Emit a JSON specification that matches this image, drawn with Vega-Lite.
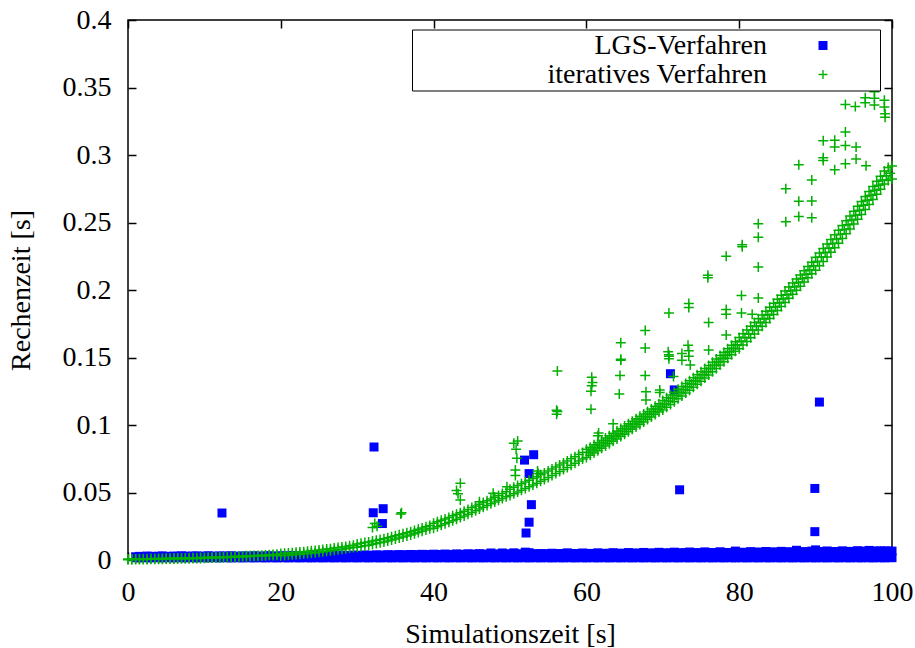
{
"$schema": "https://vega.github.io/schema/vega-lite/v6.json",
"width": 764, "height": 540,
"autosize": "none",
"padding": {"left": 128, "top": 20, "right": 23, "bottom": 88},
"background": "white",
"config": {
  "font": "Liberation Serif, serif",
  "view": {"stroke": "black", "strokeWidth": 1.5},
  "axis": {"domain": false, "grid": false, "ticks": true, "tickColor": "black", "tickWidth": 1.5, "tickSize": -8, "labelFlush": false,
    "labelFont": "Liberation Serif, serif", "labelFontSize": 28, "labelColor": "black",
    "titleFont": "Liberation Serif, serif", "titleFontSize": 28, "titleFontWeight": "normal", "titleColor": "black"}
},
"datasets": {
"lgs": [
{"x":1,"a":0.0017,"b":0.0024},{"x":1.5,"a":0.0016,"b":0.0027},{"x":2,"a":0.0018,"b":0.0026},{"x":2.5,"a":0.0017,"b":0.0029},{"x":3,"a":0.0016,"b":0.0027},{"x":3.5,"a":0.0018,"b":0.0026},{"x":4,"a":0.0017,"b":0.0028},{"x":4.5,"a":0.0016,"b":0.0030},{"x":5,"a":0.0018,"b":0.0027},{"x":5.5,"a":0.0017,"b":0.0026},{"x":6,"a":0.0016,"b":0.0029},{"x":6.5,"a":0.0018,"b":0.0027},{"x":7,"a":0.0017,"b":0.0031},{"x":7.5,"a":0.0016,"b":0.0028},{"x":8,"a":0.0018,"b":0.0027},{"x":8.5,"a":0.0017,"b":0.0029},{"x":9,"a":0.0016,"b":0.0030},{"x":9.5,"a":0.0018,"b":0.0027},{"x":10,"a":0.0017,"b":0.0028},{"x":10.5,"a":0.0016,"b":0.0031},{"x":11,"a":0.0018,"b":0.0028},{"x":11.5,"a":0.0017,"b":0.0027},{"x":12,"a":0.0016,"b":0.0030},{"x":12.5,"a":0.0018,"b":0.0028},{"x":13,"a":0.0017,"b":0.0029},{"x":13.5,"a":0.0016,"b":0.0031},{"x":14,"a":0.0018,"b":0.0028},{"x":14.5,"a":0.0017,"b":0.0027},{"x":15,"a":0.0016,"b":0.0030},{"x":15.5,"a":0.0018,"b":0.0029},{"x":16,"a":0.0017,"b":0.0028},{"x":16.5,"a":0.0016,"b":0.0031},{"x":17,"a":0.0018,"b":0.0029},{"x":17.5,"a":0.0017,"b":0.0028},{"x":18,"a":0.0016,"b":0.0030},{"x":18.5,"a":0.0018,"b":0.0031},{"x":19,"a":0.0017,"b":0.0029},{"x":19.5,"a":0.0016,"b":0.0028},{"x":20,"a":0.0018,"b":0.0031},{"x":20.5,"a":0.0017,"b":0.0030},{"x":21,"a":0.0016,"b":0.0029},{"x":21.5,"a":0.0018,"b":0.0032},{"x":22,"a":0.0017,"b":0.0030},{"x":22.5,"a":0.0016,"b":0.0029},{"x":23,"a":0.0018,"b":0.0033},{"x":23.5,"a":0.0017,"b":0.0031},{"x":24,"a":0.0016,"b":0.0030},{"x":24.5,"a":0.0018,"b":0.0032},{"x":25,"a":0.0017,"b":0.0034},{"x":25.5,"a":0.0016,"b":0.0031},{"x":26,"a":0.0018,"b":0.0032},{"x":26.5,"a":0.0017,"b":0.0035},{"x":27,"a":0.0016,"b":0.0033},{"x":27.5,"a":0.0018,"b":0.0032},{"x":28,"a":0.0017,"b":0.0036},{"x":28.5,"a":0.0016,"b":0.0034},{"x":29,"a":0.0018,"b":0.0033},{"x":29.5,"a":0.0017,"b":0.0036},{"x":30,"a":0.0016,"b":0.0035},{"x":30.5,"a":0.0018,"b":0.0034},{"x":31,"a":0.0017,"b":0.0037},{"x":31.5,"a":0.0016,"b":0.0035},{"x":32,"a":0.0018,"b":0.0034},{"x":32.5,"a":0.0017,"b":0.0038},{"x":33,"a":0.0016,"b":0.0036},{"x":33.5,"a":0.0018,"b":0.0035},{"x":34,"a":0.0017,"b":0.0039},{"x":34.5,"a":0.0016,"b":0.0037},{"x":35,"a":0.0018,"b":0.0036},{"x":35.5,"a":0.0017,"b":0.0040},{"x":36,"a":0.0016,"b":0.0038},{"x":36.5,"a":0.0018,"b":0.0037},{"x":37,"a":0.0017,"b":0.0041},{"x":37.5,"a":0.0016,"b":0.0039},{"x":38,"a":0.0018,"b":0.0038},{"x":38.5,"a":0.0017,"b":0.0042},{"x":39,"a":0.0016,"b":0.0040},{"x":39.5,"a":0.0018,"b":0.0039},{"x":40,"a":0.0017,"b":0.0043},{"x":40.5,"a":0.0016,"b":0.0040},{"x":41,"a":0.0018,"b":0.0041},{"x":41.5,"a":0.0017,"b":0.0044},{"x":42,"a":0.0016,"b":0.0041},{"x":42.5,"a":0.0018,"b":0.0040},{"x":43,"a":0.0017,"b":0.0045},{"x":43.5,"a":0.0016,"b":0.0042},{"x":44,"a":0.0018,"b":0.0041},{"x":44.5,"a":0.0017,"b":0.0046},{"x":45,"a":0.0016,"b":0.0042},{"x":45.5,"a":0.0018,"b":0.0043},{"x":46,"a":0.0017,"b":0.0047},{"x":46.5,"a":0.0016,"b":0.0043},{"x":47,"a":0.0018,"b":0.0042},{"x":47.5,"a":0.0017,"b":0.0052},{"x":48,"a":0.0016,"b":0.0044},{"x":48.5,"a":0.0018,"b":0.0043},{"x":49,"a":0.0017,"b":0.0052},{"x":49.5,"a":0.0016,"b":0.0044},{"x":50,"a":0.0018,"b":0.0045},{"x":50.5,"a":0.0017,"b":0.0053},{"x":51,"a":0.0016,"b":0.0045},{"x":51.5,"a":0.0018,"b":0.0044},{"x":52,"a":0.0017,"b":0.0058},{"x":52.5,"a":0.0016,"b":0.0054},{"x":53,"a":0.0018,"b":0.0046},{"x":53.5,"a":0.0017,"b":0.0045},{"x":54,"a":0.0016,"b":0.0047},{"x":54.5,"a":0.0018,"b":0.0046},{"x":55,"a":0.0017,"b":0.0045},{"x":55.5,"a":0.0016,"b":0.0050},{"x":56,"a":0.0018,"b":0.0047},{"x":56.5,"a":0.0017,"b":0.0046},{"x":57,"a":0.0016,"b":0.0048},{"x":57.5,"a":0.0018,"b":0.0053},{"x":58,"a":0.0017,"b":0.0047},{"x":58.5,"a":0.0016,"b":0.0048},{"x":59,"a":0.0018,"b":0.0047},{"x":59.5,"a":0.0017,"b":0.0052},{"x":60,"a":0.0016,"b":0.0048},{"x":60.5,"a":0.0018,"b":0.0049},{"x":61,"a":0.0017,"b":0.0048},{"x":61.5,"a":0.0016,"b":0.0053},{"x":62,"a":0.0018,"b":0.0049},{"x":62.5,"a":0.0017,"b":0.0048},{"x":63,"a":0.0016,"b":0.0050},{"x":63.5,"a":0.0018,"b":0.0054},{"x":64,"a":0.0017,"b":0.0049},{"x":64.5,"a":0.0016,"b":0.0050},{"x":65,"a":0.0018,"b":0.0049},{"x":65.5,"a":0.0017,"b":0.0055},{"x":66,"a":0.0016,"b":0.0050},{"x":66.5,"a":0.0018,"b":0.0051},{"x":67,"a":0.0017,"b":0.0050},{"x":67.5,"a":0.0016,"b":0.0056},{"x":68,"a":0.0018,"b":0.0051},{"x":68.5,"a":0.0017,"b":0.0050},{"x":69,"a":0.0016,"b":0.0052},{"x":69.5,"a":0.0018,"b":0.0057},{"x":70,"a":0.0017,"b":0.0052},{"x":70.5,"a":0.0016,"b":0.0051},{"x":71,"a":0.0018,"b":0.0053},{"x":71.5,"a":0.0017,"b":0.0058},{"x":72,"a":0.0016,"b":0.0052},{"x":72.5,"a":0.0018,"b":0.0053},{"x":73,"a":0.0017,"b":0.0054},{"x":73.5,"a":0.0016,"b":0.0059},{"x":74,"a":0.0018,"b":0.0053},{"x":74.5,"a":0.0017,"b":0.0054},{"x":75,"a":0.0016,"b":0.0053},{"x":75.5,"a":0.0018,"b":0.0060},{"x":76,"a":0.0017,"b":0.0054},{"x":76.5,"a":0.0016,"b":0.0055},{"x":77,"a":0.0018,"b":0.0054},{"x":77.5,"a":0.0017,"b":0.0061},{"x":78,"a":0.0016,"b":0.0055},{"x":78.5,"a":0.0018,"b":0.0056},{"x":79,"a":0.0017,"b":0.0055},{"x":79.5,"a":0.0016,"b":0.0066},{"x":80,"a":0.0018,"b":0.0056},{"x":80.5,"a":0.0017,"b":0.0057},{"x":81,"a":0.0016,"b":0.0056},{"x":81.5,"a":0.0018,"b":0.0062},{"x":82,"a":0.0017,"b":0.0057},{"x":82.5,"a":0.0016,"b":0.0058},{"x":83,"a":0.0018,"b":0.0057},{"x":83.5,"a":0.0017,"b":0.0063},{"x":84,"a":0.0016,"b":0.0058},{"x":84.5,"a":0.0018,"b":0.0059},{"x":85,"a":0.0017,"b":0.0058},{"x":85.5,"a":0.0016,"b":0.0064},{"x":86,"a":0.0018,"b":0.0059},{"x":86.5,"a":0.0017,"b":0.0060},{"x":87,"a":0.0016,"b":0.0059},{"x":87.5,"a":0.0018,"b":0.0072},{"x":88,"a":0.0017,"b":0.0060},{"x":88.5,"a":0.0016,"b":0.0061},{"x":89,"a":0.0018,"b":0.0060},{"x":89.5,"a":0.0017,"b":0.0066},{"x":90,"a":0.0016,"b":0.0075},{"x":90.5,"a":0.0018,"b":0.0062},{"x":91,"a":0.0017,"b":0.0061},{"x":91.5,"a":0.0016,"b":0.0067},{"x":92,"a":0.0018,"b":0.0062},{"x":92.5,"a":0.0017,"b":0.0063},{"x":93,"a":0.0016,"b":0.0062},{"x":93.5,"a":0.0018,"b":0.0068},{"x":94,"a":0.0017,"b":0.0063},{"x":94.5,"a":0.0016,"b":0.0064},{"x":95,"a":0.0018,"b":0.0063},{"x":95.5,"a":0.0017,"b":0.0069},{"x":96,"a":0.0016,"b":0.0064},{"x":96.5,"a":0.0018,"b":0.0065},{"x":97,"a":0.0017,"b":0.0071},{"x":97.5,"a":0.0016,"b":0.0066},{"x":98,"a":0.0018,"b":0.0065},{"x":98.5,"a":0.0017,"b":0.0068},{"x":99,"a":0.0016,"b":0.0066},{"x":99.5,"a":0.0018,"b":0.0067},{"x":100,"a":0.0017,"b":0.0066},
{"x":12.3,"a":0.0348},{"x":32.2,"a":0.0837},{"x":32.1,"a":0.035},{"x":33.4,"a":0.038},{"x":33.3,"a":0.027},{"x":51.9,"a":0.074},{"x":53.1,"a":0.078},{"x":52.5,"a":0.064},{"x":52.8,"a":0.041},{"x":52.5,"a":0.028},{"x":52.1,"a":0.020},{"x":71.0,"a":0.138},{"x":71.5,"a":0.126},{"x":72.2,"a":0.052},{"x":90.5,"a":0.117},{"x":89.9,"a":0.053},{"x":89.9,"a":0.021}
],
"it": [
{"x":0,"a":0.0002,"b":0.0008},{"x":0.5,"a":0.0002,"b":0.0007},{"x":1,"a":0.0003,"b":0.0008},{"x":1.5,"a":0.0003,"b":0.0009},{"x":2,"a":0.0004,"b":0.0010},{"x":2.5,"a":0.0004,"b":0.0010},{"x":3,"a":0.0005,"b":0.0011},{"x":3.5,"a":0.0005,"b":0.0011},{"x":4,"a":0.0006,"b":0.0012},{"x":4.5,"a":0.0006,"b":0.0012},{"x":5,"a":0.0007,"b":0.0013},{"x":5.5,"a":0.0007,"b":0.0013},{"x":6,"a":0.0008,"b":0.0014},{"x":6.5,"a":0.0008,"b":0.0014},{"x":7,"a":0.0009,"b":0.0015},{"x":7.5,"a":0.0009,"b":0.0015},{"x":8,"a":0.0010,"b":0.0016},{"x":8.5,"a":0.0011,"b":0.0017},{"x":9,"a":0.0011,"b":0.0017},{"x":9.5,"a":0.0012,"b":0.0018},{"x":10,"a":0.0013,"b":0.0019},{"x":10.5,"a":0.0014,"b":0.0020},{"x":11,"a":0.0015,"b":0.0021},{"x":11.5,"a":0.0016,"b":0.0022},{"x":12,"a":0.0017,"b":0.0023},{"x":12.5,"a":0.0018,"b":0.0024},{"x":13,"a":0.0019,"b":0.0025},{"x":13.5,"a":0.0020,"b":0.0026},{"x":14,"a":0.0021,"b":0.0027},{"x":14.5,"a":0.0022,"b":0.0028},{"x":15,"a":0.0024,"b":0.0030},{"x":15.5,"a":0.0025,"b":0.0031},{"x":16,"a":0.0026,"b":0.0032},{"x":16.5,"a":0.0027,"b":0.0033},{"x":17,"a":0.0028,"b":0.0034},{"x":17.5,"a":0.0030,"b":0.0036},{"x":18,"a":0.0031,"b":0.0037},{"x":18.5,"a":0.0033,"b":0.0039},{"x":19,"a":0.0034,"b":0.0040},{"x":19.5,"a":0.0036,"b":0.0042},
{"x":20,"a":0.0032,"b":0.0048},{"x":20.5,"a":0.0034,"b":0.0050},{"x":21,"a":0.0036,"b":0.0052},{"x":21.5,"a":0.0038,"b":0.0054},{"x":22,"a":0.0041,"b":0.0057},{"x":22.5,"a":0.0043,"b":0.0059},{"x":23,"a":0.0046,"b":0.0062},{"x":23.5,"a":0.0048,"b":0.0064},{"x":24,"a":0.0052,"b":0.0068},{"x":24.5,"a":0.0054,"b":0.0070},{"x":25,"a":0.0058,"b":0.0074},{"x":25.5,"a":0.0061,"b":0.0077},{"x":26,"a":0.0065,"b":0.0081},{"x":26.5,"a":0.0068,"b":0.0084},{"x":27,"a":0.0072,"b":0.0088},{"x":27.5,"a":0.0076,"b":0.0092},{"x":28,"a":0.0080,"b":0.0096},{"x":28.5,"a":0.0084,"b":0.0100},{"x":29,"a":0.0089,"b":0.0105},{"x":29.5,"a":0.0093,"b":0.0109},
{"x":30,"a":0.0094,"b":0.0118},{"x":30.5,"a":0.0100,"b":0.0124},{"x":31,"a":0.0105,"b":0.0129},{"x":31.5,"a":0.0110,"b":0.0134},{"x":32,"a":0.0116,"b":0.0140},{"x":32.5,"a":0.0122,"b":0.0146},{"x":33,"a":0.0128,"b":0.0152},{"x":33.5,"a":0.0134,"b":0.0158},{"x":34,"a":0.0141,"b":0.0165},{"x":34.5,"a":0.0148,"b":0.0172},{"x":35,"a":0.0155,"b":0.0179},{"x":35.5,"a":0.0163,"b":0.0187},{"x":36,"a":0.0170,"b":0.0194},{"x":36.5,"a":0.0178,"b":0.0202},{"x":37,"a":0.0186,"b":0.0210},{"x":37.5,"a":0.0195,"b":0.0219},{"x":38,"a":0.0204,"b":0.0228},{"x":38.5,"a":0.0213,"b":0.0237},{"x":39,"a":0.0222,"b":0.0246},{"x":39.5,"a":0.0232,"b":0.0256},
{"x":40,"a":0.0236,"b":0.0272},{"x":40.5,"a":0.0247,"b":0.0283},{"x":41,"a":0.0258,"b":0.0294},{"x":41.5,"a":0.0268,"b":0.0304},{"x":42,"a":0.0279,"b":0.0315},{"x":42.5,"a":0.0291,"b":0.0327},{"x":43,"a":0.0302,"b":0.0338},{"x":43.5,"a":0.0314,"b":0.0350},{"x":44,"a":0.0326,"b":0.0362},{"x":44.5,"a":0.0339,"b":0.0375},{"x":45,"a":0.0352,"b":0.0388},{"x":45.5,"a":0.0364,"b":0.0400},{"x":46,"a":0.0377,"b":0.0413},{"x":46.5,"a":0.0390,"b":0.0426},{"x":47,"a":0.0403,"b":0.0439},{"x":47.5,"a":0.0416,"b":0.0452},{"x":48,"a":0.0429,"b":0.0465},{"x":48.5,"a":0.0442,"b":0.0478},{"x":49,"a":0.0456,"b":0.0492},{"x":49.5,"a":0.0469,"b":0.0505},
{"x":50,"a":0.0477,"b":0.0525},{"x":50.5,"a":0.0490,"b":0.0538},{"x":51,"a":0.0503,"b":0.0551},{"x":51.5,"a":0.0516,"b":0.0564},{"x":52,"a":0.0529,"b":0.0577},{"x":52.5,"a":0.0542,"b":0.0590},{"x":53,"a":0.0556,"b":0.0604},{"x":53.5,"a":0.0569,"b":0.0617},{"x":54,"a":0.0583,"b":0.0631},{"x":54.5,"a":0.0597,"b":0.0645},{"x":55,"a":0.0612,"b":0.0660},{"x":55.5,"a":0.0626,"b":0.0674},{"x":56,"a":0.0641,"b":0.0689},{"x":56.5,"a":0.0656,"b":0.0704},{"x":57,"a":0.0671,"b":0.0719},{"x":57.5,"a":0.0686,"b":0.0734},{"x":58,"a":0.0702,"b":0.0750},{"x":58.5,"a":0.0717,"b":0.0765},{"x":59,"a":0.0733,"b":0.0781},{"x":59.5,"a":0.0749,"b":0.0797},
{"x":60,"a":0.0760,"b":0.0820},{"x":60.5,"a":0.0776,"b":0.0836},{"x":61,"a":0.0793,"b":0.0853},{"x":61.5,"a":0.0810,"b":0.0870},{"x":62,"a":0.0827,"b":0.0887},{"x":62.5,"a":0.0844,"b":0.0904},{"x":63,"a":0.0861,"b":0.0921},{"x":63.5,"a":0.0879,"b":0.0939},{"x":64,"a":0.0896,"b":0.0956},{"x":64.5,"a":0.0914,"b":0.0974},{"x":65,"a":0.0932,"b":0.0992},{"x":65.5,"a":0.0950,"b":0.1010},{"x":66,"a":0.0968,"b":0.1028},{"x":66.5,"a":0.0986,"b":0.1046},{"x":67,"a":0.1004,"b":0.1064},{"x":67.5,"a":0.1022,"b":0.1082},{"x":68,"a":0.1040,"b":0.1100},{"x":68.5,"a":0.1059,"b":0.1119},{"x":69,"a":0.1078,"b":0.1138},{"x":69.5,"a":0.1097,"b":0.1157},
{"x":70,"a":0.1111,"b":0.1181},{"x":70.5,"a":0.1131,"b":0.1201},{"x":71,"a":0.1152,"b":0.1222},{"x":71.5,"a":0.1173,"b":0.1243},{"x":72,"a":0.1194,"b":0.1264},{"x":72.5,"a":0.1215,"b":0.1285},{"x":73,"a":0.1237,"b":0.1307},{"x":73.5,"a":0.1258,"b":0.1328},{"x":74,"a":0.1280,"b":0.1350},{"x":74.5,"a":0.1302,"b":0.1372},{"x":75,"a":0.1325,"b":0.1395},{"x":75.5,"a":0.1348,"b":0.1418},{"x":76,"a":0.1371,"b":0.1441},{"x":76.5,"a":0.1395,"b":0.1465},{"x":77,"a":0.1419,"b":0.1489},{"x":77.5,"a":0.1444,"b":0.1514},{"x":78,"a":0.1469,"b":0.1539},{"x":78.5,"a":0.1494,"b":0.1564},{"x":79,"a":0.1520,"b":0.1590},{"x":79.5,"a":0.1546,"b":0.1616},
{"x":80,"a":0.1565,"b":0.1649},{"x":80.5,"a":0.1592,"b":0.1676},{"x":81,"a":0.1619,"b":0.1703},{"x":81.5,"a":0.1647,"b":0.1731},{"x":82,"a":0.1675,"b":0.1759},{"x":82.5,"a":0.1703,"b":0.1787},{"x":83,"a":0.1731,"b":0.1815},{"x":83.5,"a":0.1759,"b":0.1843},{"x":84,"a":0.1788,"b":0.1872},{"x":84.5,"a":0.1818,"b":0.1902},{"x":85,"a":0.1848,"b":0.1932},{"x":85.5,"a":0.1878,"b":0.1962},{"x":86,"a":0.1908,"b":0.1992},{"x":86.5,"a":0.1938,"b":0.2022},{"x":87,"a":0.1968,"b":0.2052},{"x":87.5,"a":0.1998,"b":0.2082},{"x":88,"a":0.2028,"b":0.2112},{"x":88.5,"a":0.2059,"b":0.2143},{"x":89,"a":0.2090,"b":0.2174},{"x":89.5,"a":0.2121,"b":0.2205},
{"x":90,"a":0.2147,"b":0.2243},{"x":90.5,"a":0.2179,"b":0.2275},{"x":91,"a":0.2212,"b":0.2308},{"x":91.5,"a":0.2245,"b":0.2341},{"x":92,"a":0.2279,"b":0.2375},{"x":92.5,"a":0.2313,"b":0.2409},{"x":93,"a":0.2347,"b":0.2443},{"x":93.5,"a":0.2382,"b":0.2478},{"x":94,"a":0.2417,"b":0.2513},{"x":94.5,"a":0.2452,"b":0.2548},{"x":95,"a":0.2488,"b":0.2584},{"x":95.5,"a":0.2524,"b":0.2620},{"x":96,"a":0.2560,"b":0.2656},{"x":96.5,"a":0.2597,"b":0.2693},{"x":97,"a":0.2634,"b":0.2730},{"x":97.5,"a":0.2671,"b":0.2767},{"x":98,"a":0.2709,"b":0.2805},{"x":98.5,"a":0.2747,"b":0.2843},{"x":99,"a":0.2786,"b":0.2882},{"x":99.5,"a":0.2812,"b":0.2908},{"x":100,"a":0.2822,"b":0.2918},
{"x":60.25,"c":0.0798},{"x":60.75,"c":0.0815},{"x":61.25,"c":0.0832},{"x":61.75,"c":0.0849},{"x":62.25,"c":0.0866},{"x":62.75,"c":0.0883},{"x":63.25,"c":0.0900},{"x":63.75,"c":0.0918},{"x":64.25,"c":0.0935},{"x":64.75,"c":0.0953},{"x":65.25,"c":0.0971},{"x":65.75,"c":0.0989},{"x":66.25,"c":0.1007},{"x":66.75,"c":0.1025},{"x":67.25,"c":0.1043},{"x":67.75,"c":0.1061},{"x":68.25,"c":0.1080},{"x":68.75,"c":0.1099},{"x":69.25,"c":0.1118},{"x":69.75,"c":0.1137},
{"x":70.25,"c":0.1156},{"x":70.75,"c":0.1177},{"x":71.25,"c":0.1198},{"x":71.75,"c":0.1219},{"x":72.25,"c":0.1240},{"x":72.75,"c":0.1261},{"x":73.25,"c":0.1283},{"x":73.75,"c":0.1304},{"x":74.25,"c":0.1326},{"x":74.75,"c":0.1349},{"x":75.25,"c":0.1372},{"x":75.75,"c":0.1395},{"x":76.25,"c":0.1418},{"x":76.75,"c":0.1442},{"x":77.25,"c":0.1467},{"x":77.75,"c":0.1492},{"x":78.25,"c":0.1517},{"x":78.75,"c":0.1542},{"x":79.25,"c":0.1568},{"x":79.75,"c":0.1594},
{"x":80.25,"c":0.1621},{"x":80.75,"c":0.1648},{"x":81.25,"c":0.1675},{"x":81.75,"c":0.1703},{"x":82.25,"c":0.1731},{"x":82.75,"c":0.1759},{"x":83.25,"c":0.1787},{"x":83.75,"c":0.1816},{"x":84.25,"c":0.1845},{"x":84.75,"c":0.1875},{"x":85.25,"c":0.1905},{"x":85.75,"c":0.1935},{"x":86.25,"c":0.1965},{"x":86.75,"c":0.1995},{"x":87.25,"c":0.2025},{"x":87.75,"c":0.2055},{"x":88.25,"c":0.2086},{"x":88.75,"c":0.2117},{"x":89.25,"c":0.2148},{"x":89.75,"c":0.2179},
{"x":90.25,"c":0.2211},{"x":90.75,"c":0.2244},{"x":91.25,"c":0.2277},{"x":91.75,"c":0.2310},{"x":92.25,"c":0.2344},{"x":92.75,"c":0.2378},{"x":93.25,"c":0.2413},{"x":93.75,"c":0.2448},{"x":94.25,"c":0.2483},{"x":94.75,"c":0.2518},{"x":95.25,"c":0.2554},{"x":95.75,"c":0.2590},{"x":96.25,"c":0.2627},{"x":96.75,"c":0.2664},{"x":97.25,"c":0.2701},{"x":97.75,"c":0.2738},{"x":98.25,"c":0.2776},{"x":98.75,"c":0.2815},{"x":99.25,"c":0.2847},{"x":99.75,"c":0.2865},
{"x":32.0,"a":0.024},{"x":32.3,"a":0.027},{"x":32.6,"a":0.025},{"x":35.7,"a":0.034},{"x":35.8,"a":0.035},{"x":43.0,"a":0.0514},{"x":43.5,"a":0.0568},{"x":43.2,"a":0.049},{"x":43.5,"a":0.0445},{"x":46.0,"a":0.0432},{"x":47.8,"a":0.0494},{"x":49.6,"a":0.0543},{"x":50.5,"a":0.0865},{"x":51.0,"a":0.0882},{"x":50.8,"a":0.082},{"x":50.9,"a":0.0754},{"x":50.7,"a":0.0667},{"x":50.7,"a":0.0626},{"x":53.6,"a":0.066},{"x":53.7,"a":0.064},{"x":56.2,"a":0.140},{"x":56.1,"a":0.111},{"x":56.2,"a":0.110},{"x":56.1,"a":0.108},{"x":60.7,"a":0.1353},{"x":60.8,"a":0.1314},{"x":60.7,"a":0.129},{"x":60.6,"a":0.125},{"x":60.6,"a":0.1117},{"x":61.6,"a":0.094},{"x":61.5,"a":0.092},{"x":63.5,"a":0.101},{"x":64.5,"a":0.161},{"x":64.5,"a":0.1487},{"x":64.5,"a":0.148},{"x":64.4,"a":0.1366},{"x":64.3,"a":0.123},{"x":67.7,"a":0.170},{"x":67.7,"a":0.157},{"x":67.7,"a":0.1366},{"x":67.8,"a":0.1247},{"x":67.8,"a":0.1185},{"x":69.6,"a":0.126},{"x":69.6,"a":0.124},{"x":70.7,"a":0.1543},{"x":70.8,"a":0.152},{"x":70.8,"a":0.183},{"x":70.8,"a":0.151},{"x":70.8,"a":0.149},{"x":71.4,"a":0.136},{"x":72.5,"a":0.153},{"x":72.5,"a":0.148},{"x":73.3,"a":0.159},{"x":73.4,"a":0.155},{"x":73.4,"a":0.151},{"x":73.6,"a":0.1445},{"x":73.4,"a":0.190},{"x":73.4,"a":0.187},{"x":75.9,"a":0.211},{"x":75.9,"a":0.209},{"x":76.0,"a":0.176},{"x":76.0,"a":0.1555},{"x":78.3,"a":0.225},{"x":78.3,"a":0.1855},{"x":78.3,"a":0.182},{"x":78.3,"a":0.1667},{"x":80.3,"a":0.196},{"x":80.3,"a":0.183},{"x":80.4,"a":0.2335},{"x":80.4,"a":0.232},{"x":81.7,"a":0.182},{"x":82.5,"a":0.249},{"x":82.5,"a":0.239},{"x":82.5,"a":0.217},{"x":82.5,"a":0.194},{"x":86.1,"a":0.275},{"x":86.1,"a":0.2505},{"x":87.8,"a":0.2927},{"x":87.8,"a":0.2657},{"x":87.8,"a":0.2545},{"x":89.5,"a":0.2815},{"x":89.5,"a":0.266},{"x":89.5,"a":0.2535},{"x":91.0,"a":0.3105},{"x":91.0,"a":0.298},{"x":91.0,"a":0.296},{"x":92.5,"a":0.311},{"x":92.5,"a":0.306},{"x":92.5,"a":0.289},{"x":93.9,"a":0.3375},{"x":93.9,"a":0.317},{"x":93.9,"a":0.307},{"x":93.9,"a":0.2935},{"x":95.2,"a":0.336},{"x":95.3,"a":0.306},{"x":95.3,"a":0.297},{"x":96.5,"a":0.3425},{"x":96.5,"a":0.3387},{"x":96.6,"a":0.292},{"x":97.7,"a":0.3468},{"x":97.7,"a":0.342},{"x":97.7,"a":0.337},{"x":99.0,"a":0.3406},{"x":99.0,"a":0.3355},{"x":99.1,"a":0.3305},{"x":99.1,"a":0.328}
]
},
"resolve": {"axis": {"x": "independent", "y": "independent"}},
"layer": [
{
  "data": {"name": "lgs"},
  "transform": [{"fold": ["a", "b"], "as": ["k", "y"]}],
  "mark": {"type": "point", "filled": true, "opacity": 1, "size": 81},
  "encoding": {
    "x": {"field": "x", "type": "quantitative", "scale": {"domain": [0, 100], "nice": false},
      "axis": {"orient": "bottom", "values": [0, 20, 40, 60, 80, 100], "title": "Simulationszeit [s]", "labelPadding": 26, "titlePadding": 14}},
    "y": {"field": "y", "type": "quantitative", "scale": {"domain": [0, 0.4], "nice": false},
      "axis": {"orient": "left", "values": [0, 0.05, 0.1, 0.15, 0.2, 0.25, 0.3, 0.35, 0.4], "format": "~g", "title": "Rechenzeit [s]", "labelPadding": 25, "titlePadding": 27}},
    "color": {"datum": "LGS-Verfahren", "type": "nominal",
      "scale": {"domain": ["LGS-Verfahren", "iteratives Verfahren"], "range": ["#0000ff", "#00b000"]},
      "legend": {"orient": "none", "legendX": 284, "legendY": 9.5, "title": " ", "titleOrient": "right", "titlePadding": 50,
        "strokeColor": "black", "fillColor": "white", "padding": 2, "symbolSize": 81, "symbolOffset": 395, "labelAlign": "right", "labelOffset": -70, "labelLimit": 500,
        "labelFont": "Liberation Serif, serif", "labelFontSize": 28, "labelColor": "black", "rowPadding": 1, "symbolStrokeWidth": 0}},
    "shape": {"datum": "LGS-Verfahren", "type": "nominal",
      "scale": {"domain": ["LGS-Verfahren", "iteratives Verfahren"], "range": ["square", "M-1,-0.15H1V0.15H-1ZM-0.15,-1H0.15V1H-0.15Z"]},
      "legend": {"orient": "none", "legendX": 284, "legendY": 9.5, "title": " ", "titleOrient": "right", "titlePadding": 50,
        "strokeColor": "black", "fillColor": "white", "padding": 2, "symbolSize": 81, "symbolOffset": 395, "labelAlign": "right", "labelOffset": -70, "labelLimit": 500,
        "labelFont": "Liberation Serif, serif", "labelFontSize": 28, "labelColor": "black", "rowPadding": 1, "symbolStrokeWidth": 0}}
  }
},
{
  "data": {"name": "it"},
  "transform": [{"fold": ["a", "b", "c"], "as": ["k", "y"]}],
  "mark": {"type": "point", "filled": true, "opacity": 1, "size": 100},
  "encoding": {
    "x": {"field": "x", "type": "quantitative", "axis": null},
    "y": {"field": "y", "type": "quantitative", "axis": null},
    "color": {"datum": "iteratives Verfahren", "type": "nominal"},
    "shape": {"datum": "iteratives Verfahren", "type": "nominal"}
  }
},
{
  "data": {"name": "lgs"},
  "mark": {"type": "point", "opacity": 0},
  "encoding": {
    "x": {"field": "x", "type": "quantitative",
      "axis": {"orient": "top", "values": [0, 20, 40, 60, 80, 100], "labels": false, "title": null}},
    "y": {"field": "a", "type": "quantitative",
      "axis": {"orient": "right", "values": [0, 0.05, 0.1, 0.15, 0.2, 0.25, 0.3, 0.35, 0.4], "labels": false, "title": null}}
  }
}
]
}
